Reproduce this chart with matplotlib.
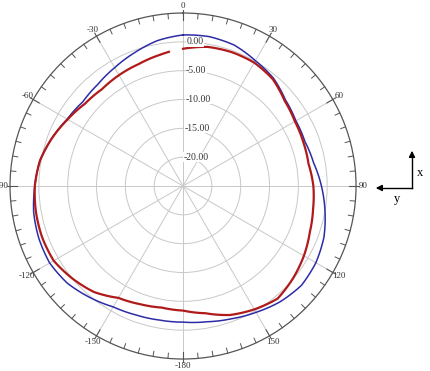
import numpy as np
import matplotlib.pyplot as plt

# angle in degrees (clockwise from top), gain in dB
ang_blue = [0, 10, 20, 30, 40, 50, 60, 70, 80, 90, 100, 110, 120, 130, 140, 150, 160, 170,
            180, 190, 200, 210, 220, 230, 240, 250, 260, 270, 280, 290, 300, 310, 320, 330,
            340, 350, 360]
gain_blue = [1.2, 1.3, 1.0, 0.1, -0.6, -1.8, -2.4, -2.5, -2.0, -1.0, 0.0, 1.0, 1.6, 1.8, 1.2,
             0.3, -0.5, -1.1, -1.4, -1.4, -1.2, -0.8, 0.2, 1.2, 1.7, 1.6, 1.3, 0.7, 0.2, -0.8,
             -1.8, -2.3, -2.0, -1.3, -0.4, 0.6, 1.2]

ang_red = [0, 10, 20, 30, 40, 50, 60, 70, 80, 90, 100, 110, 120, 130, 140, 150, 160, 170,
           180, 190, 200, 210, 220, 230, 240, 250, 260, 270, 280, 290, 300, 310, 320, 330,
           340, 350, 354]
gain_red = [-1.2, -0.5, -0.3, -0.3, -0.8, -2.0, -2.6, -2.8, -2.9, -2.4, -2.1, -1.6, -0.8,
            -0.1, 0.5, -0.3, -1.2, -2.6, -3.4, -3.6, -3.2, -2.6, -1.0, 0.0, 0.9, 1.0, 0.9,
            0.7, 0.2, -0.8, -1.9, -2.8, -3.1, -2.8, -2.5, -1.9, -1.6]

r_ticks = [-20, -15, -10, -5, 0]
r_labels = ['-20.00', '-15.00', '-10.00', '-5.00', '0.00']
theta_ticks = [0, 30, 60, 90, 120, 150, 180, 210, 240, 270, 300, 330]
theta_labels = ['0', '30', '60', '90', '120', '150', '-180', '-150', '-120', '-90', '-60', '-30']

plt.rcParams['font.family'] = 'Liberation Serif'

fig = plt.figure(figsize=(4.30, 3.71), dpi=100)
ax = fig.add_axes([0.0233, 0.0323, 0.8047, 0.9326], projection='polar')
ax.set_theta_zero_location('N')
ax.set_theta_direction(-1)
ax.set_rlim(-25, 5)

ax.set_rticks(r_ticks)
ax.set_yticklabels([])
ax.set_thetagrids(theta_ticks, theta_labels, fontsize=6.5, color='#333333')
ax.tick_params(axis='x', pad=-2, length=0)
ax.grid(True, color='#c8c8c8', linewidth=0.7)
ax.spines['polar'].set_color('#555555')
ax.spines['polar'].set_linewidth(0.9)

# ticks around the rim
for a in range(0, 360, 5):
    t = np.deg2rad(a)
    if a % 30 == 0:
        ax.plot([t, t], [3.8, 5.6], color='#555555', lw=0.8, clip_on=False)
    else:
        ax.plot([t, t], [4.1, 5.0], color='#555555', lw=0.7, clip_on=False)

for r, lab in zip(r_ticks, r_labels):
    ax.text(np.deg2rad(1.5), r, lab, fontsize=7, ha='left', va='center', color='#333333',
            bbox=dict(facecolor='white', edgecolor='none', pad=0.3))

lb, = ax.plot(np.deg2rad(ang_blue), gain_blue, color='#2c2ca6', lw=1.1)
lr, = ax.plot(np.deg2rad(ang_red), gain_red, color='#b01a1a', lw=1.6)
for ln in (lb, lr):
    ln.get_path()._interpolation_steps = 20

# axis indicator on the right
fig.add_artist(plt.Line2D([412 / 430, 412 / 430], [1 - 188 / 371, 1 - 158 / 371], color='black', lw=1))
ax.annotate('', xy=(412 / 430, 1 - 148 / 371), xytext=(412 / 430, 1 - 160 / 371),
            xycoords='figure fraction',
            arrowprops=dict(arrowstyle='-|>', color='black', lw=1, mutation_scale=9))
fig.add_artist(plt.Line2D([412 / 430, 382 / 430], [1 - 188 / 371, 1 - 188 / 371], color='black', lw=1))
ax.annotate('', xy=(373 / 430, 1 - 188 / 371), xytext=(385 / 430, 1 - 188 / 371),
            xycoords='figure fraction',
            arrowprops=dict(arrowstyle='-|>', color='black', lw=1, mutation_scale=9))
fig.text(420 / 430, 1 - 173 / 371, 'x', fontsize=9, ha='center', va='center')
fig.text(397 / 430, 1 - 199 / 371, 'y', fontsize=9, ha='center', va='center')

fig.savefig('out.png', dpi=100)
